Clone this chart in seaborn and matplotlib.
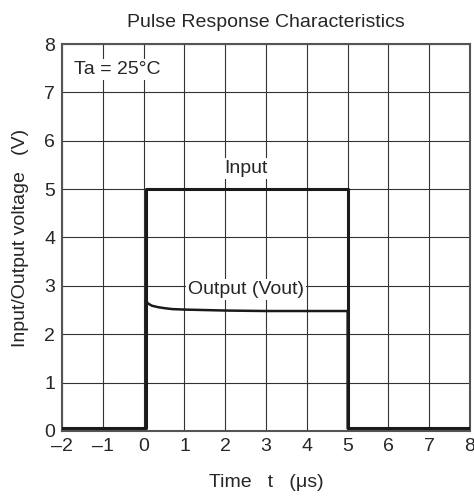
import numpy as np
import pandas as pd
import matplotlib
matplotlib.use('Agg')
import matplotlib.pyplot as plt
import seaborn as sns

# input pulse
in_t = [-2, 0.05, 0.05, 5.0, 5.0, 8]
in_v = [0.07, 0.07, 5.0, 5.0, 0.07, 0.07]

# output (Vout)
out_t = [-2, 0.05, 0.05, 0.1, 0.2, 0.35, 0.5, 0.7, 1.0, 1.5, 2.0, 3.0, 4.0, 5.0, 5.0, 8]
out_v = [0.05, 0.05, 2.70, 2.64, 2.59, 2.56, 2.54, 2.52, 2.51, 2.50, 2.49, 2.48, 2.48, 2.48, 0.05, 0.05]

x_ticks = [-2, -1, 0, 1, 2, 3, 4, 5, 6, 7, 8]
y_ticks = [0, 1, 2, 3, 4, 5, 6, 7, 8]

sns.set_style('white')
plt.rcParams['font.family'] = ['Liberation Sans', 'DejaVu Sans']

fig = plt.figure(figsize=(4.74, 4.99), dpi=100)
ax = fig.add_axes([0.131, 0.1363, 0.8606, 0.7755])

for xt in x_ticks:
    ax.axvline(xt, color='#333333', lw=0.8, zorder=1)
for yt in y_ticks:
    ax.axhline(yt, color='#333333', lw=0.8, zorder=1)

df_in = pd.DataFrame({'t': in_t, 'v': in_v})
df_out = pd.DataFrame({'t': out_t, 'v': out_v})
sns.lineplot(data=df_in, x='t', y='v', sort=False, estimator=None, errorbar=None,
             color='#1a1a1a', lw=2.2, ax=ax, zorder=3)
sns.lineplot(data=df_out, x='t', y='v', sort=False, estimator=None, errorbar=None,
             color='#1a1a1a', lw=1.8, ax=ax, zorder=3)

fs = 14
box = dict(facecolor='white', edgecolor='none', pad=1.5)
ax.text(2.5, 5.42, 'Input', ha='center', va='center', fontsize=fs, bbox=box, zorder=4)
ax.text(2.5, 2.92, 'Output (Vout)', ha='center', va='center', fontsize=fs, bbox=box, zorder=4)
ax.text(-1.72, 7.47, 'Ta = 25°C', ha='left', va='center', fontsize=fs, bbox=box, zorder=4)

ax.set_xlim(-2, 8)
ax.set_ylim(0, 8)
ax.set_xticks(x_ticks)
ax.set_yticks(y_ticks)
ax.set_xticklabels(['–2', '–1'] + [str(v) for v in x_ticks[2:]])
ax.tick_params(length=0, labelsize=fs, pad=5)
for s in ax.spines.values():
    s.set_color('#555555')
    s.set_linewidth(1.5)

ax.set_xlabel('Time   t   (μs)', fontsize=fs, labelpad=14)
ax.set_ylabel('Input/Output voltage   (V)', fontsize=fs, labelpad=11)
ax.set_title('Pulse Response Characteristics', fontsize=fs, pad=12)

fig.savefig('out.png', dpi=100)
